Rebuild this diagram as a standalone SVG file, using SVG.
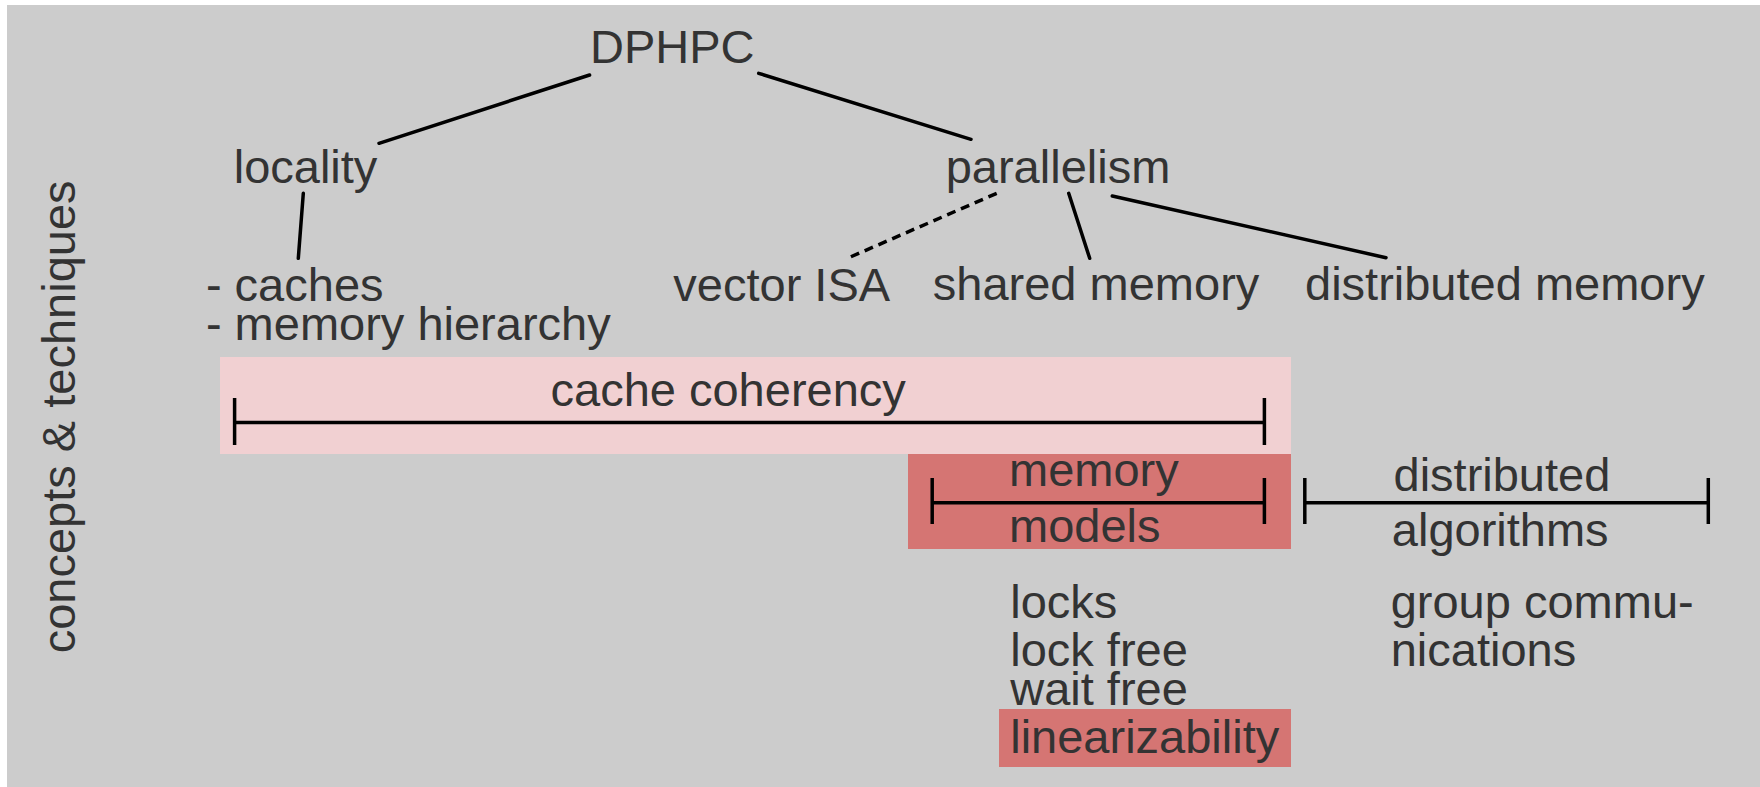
<svg xmlns="http://www.w3.org/2000/svg" width="1760" height="787" viewBox="0 0 1760 787">
<style>
text{font-family:"Liberation Sans",Arial,Helvetica,sans-serif;font-size:47px;fill:#333333}
.ln{stroke:#000;stroke-width:3.5;stroke-linecap:round;fill:none}
.dash{stroke:#000;stroke-width:3.5;stroke-dasharray:9 6;fill:none}
.br{stroke:#000;stroke-width:3.5;fill:none}
</style>
<rect x="0" y="0" width="1760" height="787" fill="#ffffff"/>
<rect x="7" y="5" width="1753" height="782" fill="#cccccc"/>
<g id="highlights">
<rect x="220" y="357" width="1071" height="97" fill="#f1d0d2"/>
<rect x="908" y="454" width="383" height="95" fill="#d57573"/>
<rect x="999" y="709" width="292" height="58" fill="#d57573"/>
</g>
<g id="connectors">
<line class="ln" x1="589.6" y1="75" x2="379" y2="143.3"/>
<line class="ln" x1="758.7" y1="73.3" x2="971" y2="139.3"/>
<line class="ln" x1="303.3" y1="193.3" x2="298.3" y2="258.3"/>
<line class="dash" x1="996.7" y1="193.3" x2="847.4" y2="258.3"/>
<line class="ln" x1="1068.7" y1="193.3" x2="1089.7" y2="258.3"/>
<line class="ln" x1="1112.3" y1="196" x2="1386" y2="257.7"/>
</g>
<g id="bracket-cache-coherency">
<line class="br" x1="234.6" y1="398" x2="234.6" y2="445"/>
<line class="br" x1="1264.4" y1="398" x2="1264.4" y2="445"/>
<line class="br" x1="234.6" y1="422.5" x2="1264.4" y2="422.5"/>
</g>
<g id="bracket-memory-models">
<line class="br" x1="932.2" y1="478" x2="932.2" y2="524"/>
<line class="br" x1="1264.4" y1="478" x2="1264.4" y2="524"/>
<line class="br" x1="932.2" y1="502.7" x2="1264.4" y2="502.7"/>
</g>
<g id="bracket-distributed-algorithms">
<line class="br" x1="1304.8" y1="478" x2="1304.8" y2="524"/>
<line class="br" x1="1708.3" y1="478" x2="1708.3" y2="524"/>
<line class="br" x1="1304.8" y1="502.7" x2="1708.3" y2="502.7"/>
</g>
<g id="node-dphpc"><text x="590" y="63.3">DPHPC</text></g>
<g id="node-locality"><text x="233.7" y="182.7">locality</text></g>
<g id="node-parallelism"><text x="945.7" y="182.7">parallelism</text></g>
<g id="node-caches">
<text x="205.9" y="301">- caches</text>
<text x="205.9" y="340">- memory hierarchy</text>
</g>
<g id="node-vector-isa"><text x="673.3" y="301">vector ISA</text></g>
<g id="node-shared-memory"><text x="932.8" y="300">shared memory</text></g>
<g id="node-distributed-memory"><text x="1305" y="300">distributed memory</text></g>
<g id="node-cache-coherency"><text x="550.5" y="406">cache coherency</text></g>
<g id="node-memory-models">
<text x="1009" y="486">memory</text>
<text x="1009" y="542.3">models</text>
</g>
<g id="node-distributed-algorithms">
<text x="1393.5" y="491">distributed</text>
<text x="1391.8" y="545.7">algorithms</text>
</g>
<g id="node-sync">
<text x="1010.2" y="618.3">locks</text>
<text x="1010.2" y="665.7">lock free</text>
<text x="1010.2" y="705">wait free</text>
<text x="1010.2" y="752.7">linearizability</text>
</g>
<g id="node-group-comm">
<text x="1390.7" y="618.3">group commu-</text>
<text x="1390.7" y="665.7">nications</text>
</g>
<g id="axis-label"><text transform="translate(75,653.3) rotate(-90)">concepts &amp; techniques</text></g>
</svg>
